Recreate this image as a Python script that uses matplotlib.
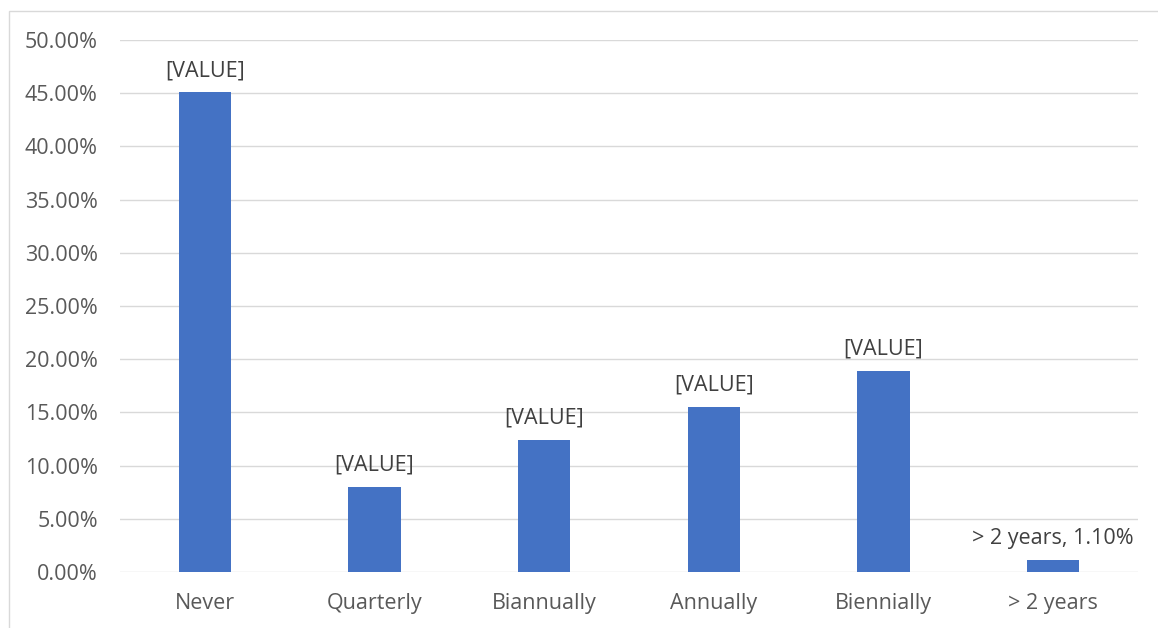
import matplotlib.pyplot as plt
from matplotlib.patches import Rectangle
from matplotlib.ticker import PercentFormatter

CATEGORIES = ['Never', 'Quarterly', 'Biannually', 'Annually', 'Biennially', '> 2 years']
VALUES = [45.1, 8.0, 12.4, 15.5, 18.9, 1.1]
LABELS = ['[VALUE]', '[VALUE]', '[VALUE]', '[VALUE]', '[VALUE]', '> 2 years, 1.10%']

W, H = 1158, 628
plt.rcParams['font.family'] = ['Open Sans', 'DejaVu Sans']

fig = plt.figure(figsize=(W / 100, H / 100), dpi=100)
ax = fig.add_axes([120 / W, (H - 572) / H, (1138 - 120) / W, (572 - 40) / H])

x = range(len(CATEGORIES))
bars = ax.bar(x, VALUES, width=0.31, color='#4472c4', zorder=3)
for b, lab in zip(bars, LABELS):
    ax.annotate(lab, (b.get_x() + b.get_width() / 2, b.get_height()),
                xytext=(0, 8), textcoords='offset points', ha='center', va='bottom',
                fontsize=15.5, color='#404040')

ax.set_xlim(-0.5, len(CATEGORIES) - 0.5)
ax.set_ylim(0, 50)
ax.set_yticks(range(0, 51, 5))
ax.yaxis.set_major_formatter(PercentFormatter(decimals=2))
ax.set_xticks(list(x))
ax.set_xticklabels(CATEGORIES)
ax.tick_params(length=0, labelsize=15.5, labelcolor='#595959')
ax.tick_params(axis='y', pad=16)
ax.tick_params(axis='x', pad=15)
ax.grid(axis='y', color='#d9d9d9', lw=1, zorder=0)
for s in ax.spines.values():
    s.set_visible(False)

# chart border
fig.patches.append(Rectangle((9 / W, -0.1), 1.2, 1.1 - 11 / H, transform=fig.transFigure,
                             fill=False, edgecolor='#d9d9d9', lw=1))

fig.savefig('out.png', dpi=100)
